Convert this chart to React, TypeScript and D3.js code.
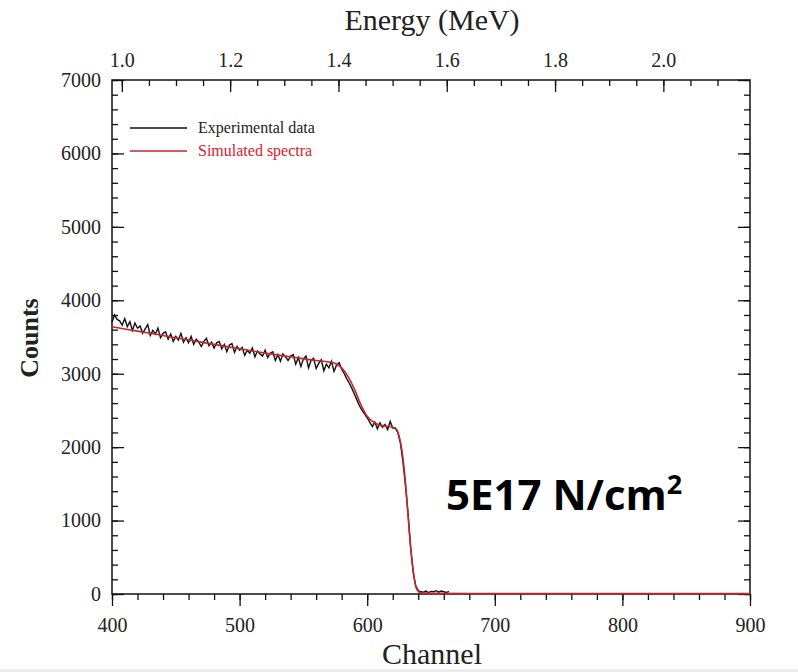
import React, { useEffect, useRef } from "react";
import * as d3 from "d3";

// simulated spectrum (smooth fit)
const simChannels = [400, 420, 440, 460, 480, 500, 520, 540, 560, 570, 575, 580, 585, 590, 595, 600, 605, 610, 615, 620, 623, 625, 627, 629, 631, 633, 635, 637, 639, 642, 650, 700, 800, 900];
const simCounts = [3640, 3580, 3520, 3460, 3400, 3340, 3280, 3230, 3180, 3160, 3140, 3080, 2960, 2790, 2580, 2420, 2340, 2300, 2285, 2270, 2240, 2150, 1980, 1700, 1300, 850, 480, 200, 60, 15, 8, 5, 5, 5];

// experimental data, every 2 channels starting at 400
const expStart = 400;
const expStep = 2;
const expCounts = [
  3700, 3800, 3740, 3720, 3660, 3750, 3640, 3710, 3590, 3690, 3620,
  3650, 3550, 3610, 3670, 3520, 3590, 3540, 3620, 3490, 3550,
  3570, 3470, 3540, 3440, 3510, 3460, 3550, 3430, 3490, 3420,
  3510, 3400, 3470, 3430, 3370, 3440, 3480, 3380, 3430, 3350,
  3420, 3440, 3340, 3400, 3300, 3390, 3410, 3290, 3370, 3320,
  3360, 3250, 3320, 3280, 3350, 3230, 3310, 3270, 3240, 3320,
  3220, 3280, 3300, 3180, 3260, 3170, 3270, 3230, 3180, 3240,
  3260, 3130, 3220, 3100, 3200, 3240, 3080, 3180, 3210, 3070,
  3140, 3190, 3040, 3130, 3080, 3170, 3030, 3120, 3150, 3060,
  3000, 2930, 2870, 2800, 2720, 2640, 2560, 2500, 2450, 2400,
  2340, 2280, 2340, 2250, 2330, 2270, 2310, 2240, 2350, 2260,
  2260, 2200, 2060, 1800, 1480, 1100, 640, 300, 110, 45,
  30, 25, 40, 20, 35, 30, 45, 25, 40, 30, 20, 35,
];

const channelTicks = [400, 500, 600, 700, 800, 900];
const countTicks = [0, 1000, 2000, 3000, 4000, 5000, 6000, 7000];
const energyTicks = [1.0, 1.2, 1.4, 1.6, 1.8, 2.0];
const legendLabels = ["Experimental data", "Simulated spectra"];

const W = 798;
const H = 672;

const Spectrum = () => {
  const ref = useRef<SVGSVGElement>(null);

  useEffect(() => {
    drawChart();
    //eslint-disable-next-line
  }, []);

  function drawChart() {
    const svg = d3.select(ref.current);
    svg.selectAll("*").remove();

    const left = 112, right = 750, top = 80, bottom = 594;
    const serif = "'Liberation Serif', 'Times New Roman', serif";

    const x = d3.scaleLinear().domain([400, 900]).range([left, right]);
    const y = d3.scaleLinear().domain([0, 7000]).range([bottom, top]);
    // top energy axis: 1.0 MeV sits at x=122, 0.2 MeV per 110px
    const e = d3.scaleLinear().domain([1.0 - 10 / 550, 1.0 + 638 / 550]).range([left, right]);

    svg.append("rect").attr("width", W).attr("height", H).attr("fill", "#fff");

    const styleAxis = (g: any) => {
      g.select(".domain").remove();
      g.selectAll("line").attr("stroke", "#111").attr("stroke-width", 1.3);
      g.selectAll("text").attr("font-family", serif).attr("font-size", 20).attr("fill", "#222");
    };

    // minor ticks
    svg.append("g").attr("transform", `translate(0,${bottom})`)
      .call(d3.axisBottom(x).tickValues(d3.range(400, 901, 20)).tickSize(6).tickFormat(() => ""))
      .call(styleAxis);
    svg.append("g").attr("transform", `translate(${left},0)`)
      .call(d3.axisLeft(y).tickValues(d3.range(0, 7001, 200)).tickSize(-6).tickFormat(() => ""))
      .call(styleAxis);
    svg.append("g").attr("transform", `translate(${right},0)`)
      .call(d3.axisRight(y).tickValues(d3.range(0, 7001, 200)).tickSize(-6).tickFormat(() => ""))
      .call(styleAxis);
    svg.append("g").attr("transform", `translate(0,${top})`)
      .call(d3.axisTop(e).tickValues(d3.range(1.0, 2.15, 0.05)).tickSize(-6).tickFormat(() => ""))
      .call(styleAxis);

    // major ticks + labels
    svg.append("g").attr("transform", `translate(0,${bottom})`)
      .call(d3.axisBottom(x).tickValues(channelTicks).tickSize(12).tickPadding(12).tickFormat(d3.format("d")))
      .call(styleAxis);
    svg.append("g").attr("transform", `translate(${left},0)`)
      .call(d3.axisLeft(y).tickValues(countTicks).tickSize(-12).tickPadding(11).tickFormat(d3.format("d")))
      .call(styleAxis);
    svg.append("g").attr("transform", `translate(${right},0)`)
      .call(d3.axisRight(y).tickValues(countTicks).tickSize(-12).tickFormat(() => ""))
      .call(styleAxis);
    svg.append("g").attr("transform", `translate(0,${top})`)
      .call(d3.axisTop(e).tickValues(energyTicks).tickSize(-12).tickPadding(13).tickFormat(d3.format(".1f")))
      .call(styleAxis);

    // frame
    svg.append("rect")
      .attr("x", left).attr("y", top)
      .attr("width", right - left).attr("height", bottom - top)
      .attr("fill", "none").attr("stroke", "#111").attr("stroke-width", 1.5);

    // data
    const expData = expCounts.map((c, i) => [expStart + i * expStep, c] as [number, number]);
    const simData = simChannels.map((c, i) => [c, simCounts[i]] as [number, number]);

    svg.append("path")
      .datum(expData)
      .attr("fill", "none")
      .attr("stroke", "#111")
      .attr("stroke-width", 1.4)
      .attr("d", d3.line().x((d) => x(d[0])).y((d) => y(d[1])));

    svg.append("path")
      .datum(simData)
      .attr("fill", "none")
      .attr("stroke", "#c4262e")
      .attr("stroke-width", 1.6)
      .attr("d", d3.line().curve(d3.curveMonotoneX).x((d) => x(d[0])).y((d) => y(d[1])));

    // legend
    const legendColors = ["#111", "#c4262e"];
    const legendText = ["#222", "#e0202a"];
    legendLabels.forEach((label, i) => {
      const ly = 128 + i * 23;
      svg.append("line")
        .attr("x1", 130).attr("x2", 187).attr("y1", ly).attr("y2", ly)
        .attr("stroke", legendColors[i]).attr("stroke-width", 1.3);
      svg.append("text")
        .attr("x", 198).attr("y", ly + 5)
        .attr("font-family", serif).attr("font-size", 16)
        .attr("fill", legendText[i])
        .text(label);
    });

    // axis titles
    svg.append("text")
      .attr("x", 432).attr("y", 30)
      .attr("text-anchor", "middle")
      .attr("font-family", serif).attr("font-size", 30).attr("fill", "#222")
      .text("Energy (MeV)");
    svg.append("text")
      .attr("x", 432).attr("y", 664)
      .attr("text-anchor", "middle")
      .attr("font-family", serif).attr("font-size", 30).attr("fill", "#222")
      .text("Channel");
    svg.append("text")
      .attr("transform", `translate(38,${338}) rotate(-90)`)
      .attr("text-anchor", "middle")
      .attr("font-family", serif).attr("font-size", 26).attr("font-weight", "bold").attr("fill", "#222")
      .text("Counts");

    // annotation
    const ann = svg.append("text")
      .attr("x", 446).attr("y", 510)
      .attr("font-family", "'Open Sans', 'Liberation Sans', sans-serif")
      .attr("font-size", 42).attr("font-weight", "bold").attr("fill", "#000");
    ann.append("tspan").text("5E17 N/cm");
    ann.append("tspan").attr("font-size", 27).attr("dy", -16).text("2");

    // faint strip at the bottom edge of the picture
    svg.append("rect").attr("x", 0).attr("y", 669).attr("width", W).attr("height", 3).attr("fill", "#ececec");
  }

  return <svg ref={ref} width={W} height={H} style={{ position: "absolute", left: 0, top: 0 }} />;
};

export default function App() {
  return <Spectrum />;
}
